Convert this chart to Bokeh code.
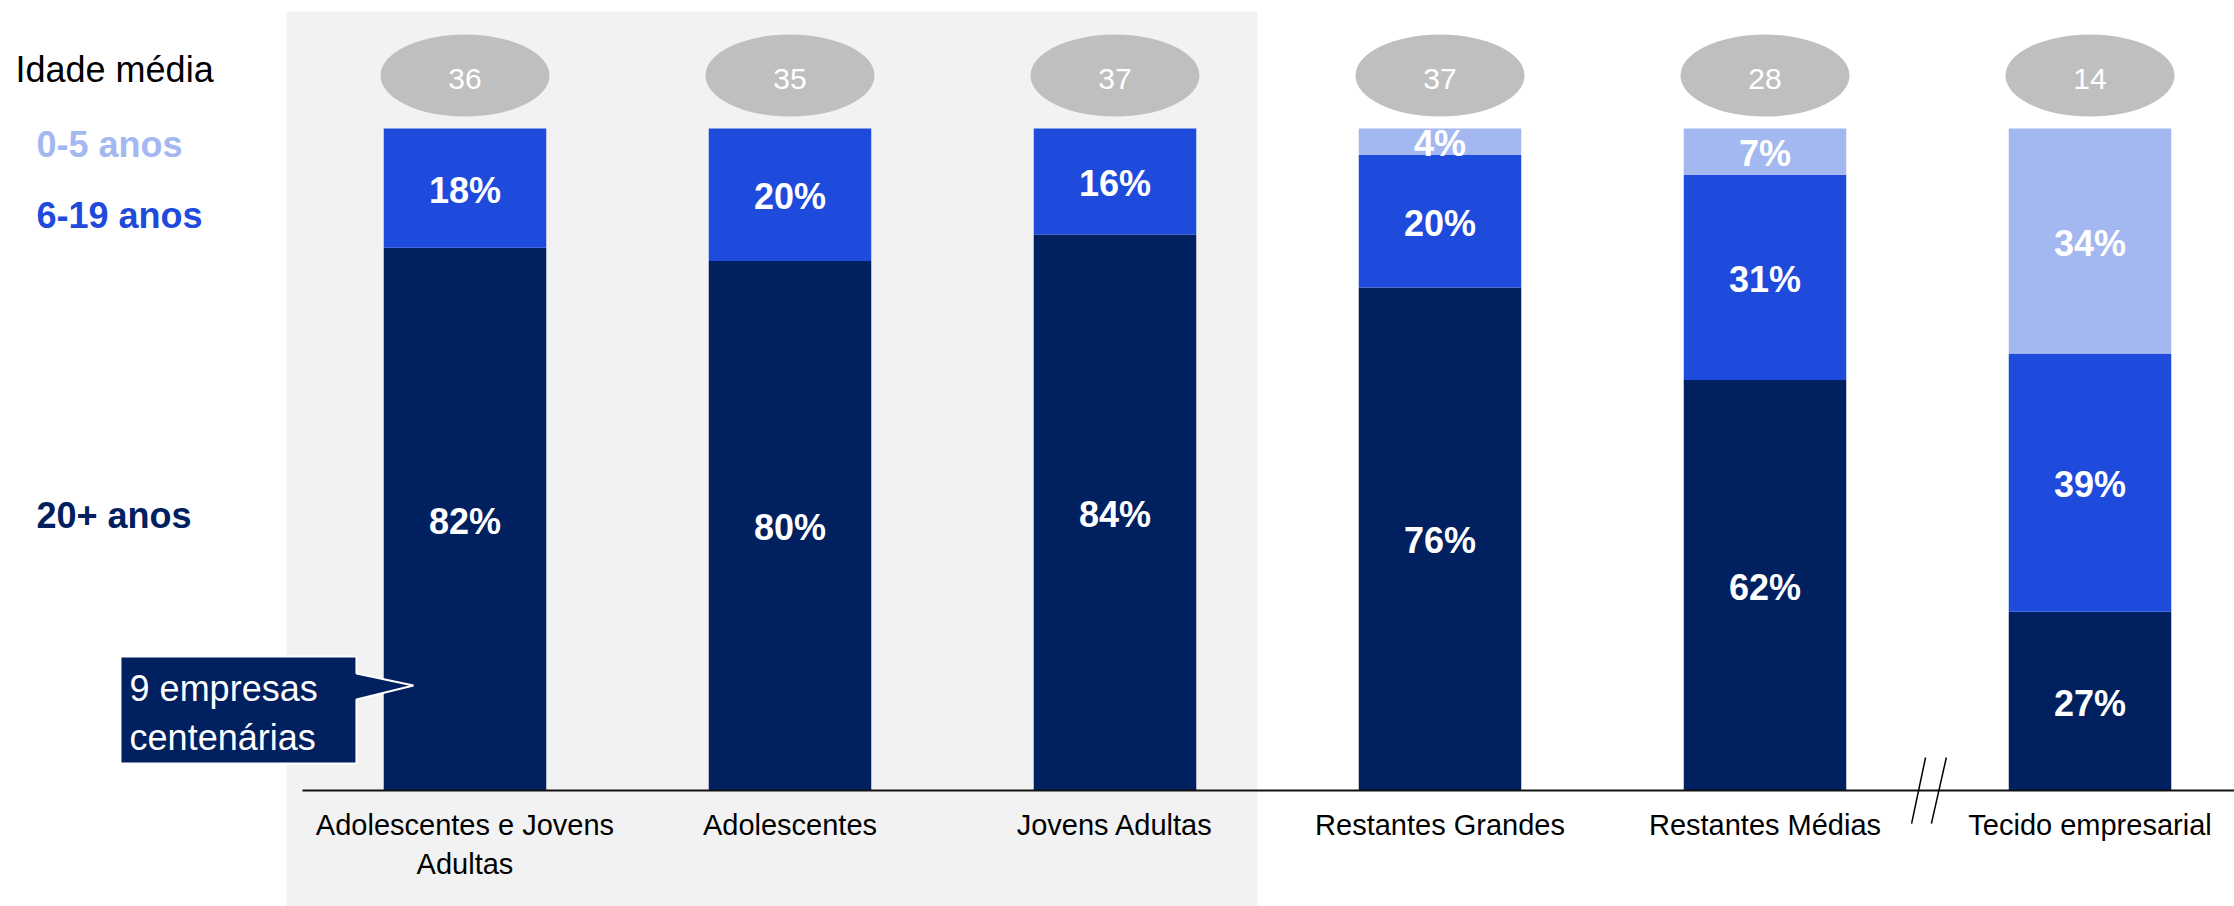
from bokeh.plotting import figure
from bokeh.models import ColumnDataSource, Range1d, BoxAnnotation
from bokeh.core.properties import value
from bokeh.embed import file_html
from bokeh.resources import INLINE

# ---------------- data ----------------
categories = ["Adolescentes e Jovens\nAdultas", "Adolescentes", "Jovens Adultas",
              "Restantes Grandes", "Restantes Médias", "Tecido empresarial"]
idade_media = [36, 35, 37, 37, 28, 14]
pct_20_mais = [82, 80, 84, 76, 62, 27]
pct_6_19 = [18, 20, 16, 20, 31, 39]
pct_0_5 = [0, 0, 0, 4, 7, 34]
series_names = ["20+ anos", "6-19 anos", "0-5 anos"]
legend_title = "Idade média"
callout_text = "9 empresas\ncentenárias"

# ---------------- styles ----------------
FONT = value("Liberation Sans")
NAVY = "#00205F"
BLUE = "#1E4BDC"
LIGHT = "#A3B7F1"
series_colors = [NAVY, BLUE, LIGHT]

n = len(categories)
xs = list(range(n))

p = figure(width=2234, height=906, output_backend="svg", toolbar_location=None,
           x_range=Range1d(-1.4292, 5.4446), y_range=Range1d(-17.523, 119.335),
           x_axis_type=None, y_axis_type=None, min_border=0,
           outline_line_color=None, background_fill_color="white",
           border_fill_color="white")
p.grid.visible = False

# highlighted panel behind first three groups
p.add_layout(BoxAnnotation(left=-0.549, right=2.438, top=117.67, bottom=-40,
                           fill_color="#F2F2F2", fill_alpha=1, line_color=None,
                           level="underlay"))

src = ColumnDataSource(dict(x=xs, s20=pct_20_mais, s6=pct_6_19, s0=pct_0_5))
p.vbar_stack(["s20", "s6", "s0"], x="x", width=0.5, color=series_colors,
             line_color=None, source=src)

# segment labels
lx, ly, lt = [], [], []
for i in range(n):
    bottom = 0
    for v in (pct_20_mais[i], pct_6_19[i], pct_0_5[i]):
        if v > 0:
            lx.append(xs[i]); ly.append(bottom + v / 2 - 0.3); lt.append(f"{v}%")
        bottom += v
p.text(x=lx, y=ly, text=lt, text_color="white", text_font=FONT,
       text_font_size="36px", text_font_style="bold", text_align="center",
       text_baseline="middle")

# average age ellipses
p.ellipse(x=xs, y=[108.0] * n, width=169, height=82, width_units="screen",
          height_units="screen", fill_color="#BFBFBF", line_color=None)
p.text(x=xs, y=[107.5] * n, text=[str(v) for v in idade_media], text_color="white",
       text_font=FONT, text_font_size="30px", text_align="center",
       text_baseline="middle")

# baseline (axis line)
p.segment(x0=[-0.5], y0=[0], x1=[6], y1=[0], line_color="#111111", line_width=2)

# axis break marks between the last two groups
mid = (xs[4] + xs[5]) / 2
p.segment(x0=[mid - 0.006, mid + 0.058], y0=[4.98, 4.98],
          x1=[mid - 0.049, mid + 0.012], y1=[-5.0, -5.0],
          line_color="black", line_width=1.5)

# category labels
p.text(x=xs, y=[-2.84] * n, text=categories, text_color="black", text_font=FONT,
       text_font_size="29px", text_align="center", text_baseline="top",
       text_line_height=1.2)

# legend texts on the left
p.text(x=[-1.383], y=[108.9], text=[legend_title], text_color="black",
       text_font=FONT, text_font_size="36px", text_baseline="middle")
p.text(x=[-1.3185] * 3, y=[41.55, 86.85, 97.55], text=series_names,
       text_color=series_colors, text_font=FONT, text_font_size="36px",
       text_font_style="bold", text_baseline="middle")

# callout
cx = [-1.06, -0.334, -0.334, -0.1585, -0.334, -0.334, -1.06]
cy = [20.24, 20.24, 17.67, 15.86, 13.75, 4.08, 4.08]
p.patch(cx, cy, fill_color=NAVY, line_color="white", line_width=2)
p.text(x=[-1.032], y=[18.52], text=[callout_text], text_color="white",
       text_font=FONT, text_font_size="36px", text_baseline="top",
       text_line_height=1.2)

open("out.html", "w").write(file_html(p, INLINE))
